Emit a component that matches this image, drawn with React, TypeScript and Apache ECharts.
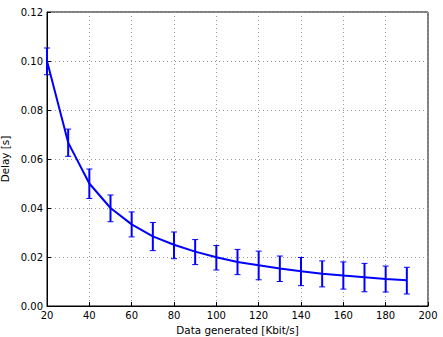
import React, { useEffect, useRef } from "react";
import * as echarts from "echarts";

const xValues = [20, 30, 40, 50, 60, 70, 80, 90, 100, 110, 120, 130, 140, 150, 160, 170, 180, 190];
const delayMean = [0.1, 0.0667, 0.05, 0.04, 0.0333, 0.0284, 0.025, 0.0222, 0.0199, 0.018, 0.0166, 0.0153, 0.0142, 0.0132, 0.0124, 0.0117, 0.011, 0.0105];
const delayUpper = [0.1053, 0.0722, 0.0559, 0.0453, 0.0384, 0.0341, 0.0302, 0.0271, 0.0247, 0.0231, 0.0224, 0.0204, 0.0198, 0.0184, 0.018, 0.0174, 0.0163, 0.0158];
const delayLower = [0.0944, 0.0611, 0.0439, 0.0344, 0.0282, 0.0226, 0.0193, 0.0169, 0.0147, 0.0128, 0.0107, 0.01, 0.0083, 0.0078, 0.0069, 0.0058, 0.0057, 0.0049];

const BLUE = "#0000ff";
const FONT = "DejaVu Sans";

export default function App() {
  const ref = useRef<HTMLDivElement>(null);
  useEffect(() => {
    document.body.style.margin = "0";
    const chart = echarts.init(ref.current!, null, { renderer: "svg" });
    const lineData = xValues.map((x, i) => [x, delayMean[i]]);
    const errData = xValues.map((x, i) => [x, delayLower[i], delayUpper[i]]);
    const gridLine = { show: true, lineStyle: { color: "#999", type: [1, 3] as any, width: 1 } };
    chart.setOption({
      animation: false,
      backgroundColor: "#fff",
      grid: {
        left: 47, right: 15, top: 12, bottom: 31,
        outerBoundsMode: "none",
        containLabel: false,
        show: true, borderColor: "#000", borderWidth: 1, backgroundColor: "transparent",
      },
      xAxis: {
        type: "value",
        min: 20,
        max: 200,
        interval: 20,
        name: "Data generated [Kbit/s]",
        nameLocation: "middle",
        nameGap: 17,
        nameTextStyle: { fontFamily: FONT, fontSize: 10.4, color: "#000" },
        axisLine: { show: true, lineStyle: { color: "#000" } },
        axisTick: { show: true, inside: true, length: 4, lineStyle: { color: "#000" } },
        axisLabel: { fontFamily: FONT, fontSize: 10, color: "#000", margin: 4 },
        splitLine: gridLine,
      },
      yAxis: {
        type: "value",
        min: 0,
        max: 0.12,
        interval: 0.02,
        name: "Delay [s]",
        nameLocation: "middle",
        nameGap: 30,
        nameTextStyle: { fontFamily: FONT, fontSize: 10.4, color: "#000" },
        axisLine: { show: true, lineStyle: { color: "#000" } },
        axisTick: { show: true, inside: true, length: 4, lineStyle: { color: "#000" } },
        axisLabel: { fontFamily: FONT, fontSize: 10, color: "#000", margin: 4, formatter: (v: number) => v.toFixed(2) },
        splitLine: gridLine,
      },
      series: [
        {
          type: "line",
          data: lineData,
          symbol: "none",
          lineStyle: { color: BLUE, width: 2 },
          z: 3,
        },
        {
          type: "custom",
          data: errData,
          z: 4,
          renderItem: (params: any, api: any) => {
            const x = api.value(0);
            const lo = api.coord([x, api.value(1)]);
            const hi = api.coord([x, api.value(2)]);
            const cap = 3;
            return {
              type: "group",
              children: [
                { type: "line", shape: { x1: lo[0], y1: lo[1], x2: hi[0], y2: hi[1] }, style: { stroke: BLUE, lineWidth: 2 } },
                { type: "line", shape: { x1: lo[0] - cap, y1: lo[1], x2: lo[0] + cap, y2: lo[1] }, style: { stroke: BLUE, lineWidth: 1 } },
                { type: "line", shape: { x1: hi[0] - cap, y1: hi[1], x2: hi[0] + cap, y2: hi[1] }, style: { stroke: BLUE, lineWidth: 1 } },
              ],
            };
          },
        },
      ],
    });
    return () => chart.dispose();
  }, []);
  return <div ref={ref} style={{ width: 443, height: 337 }} />;
}
